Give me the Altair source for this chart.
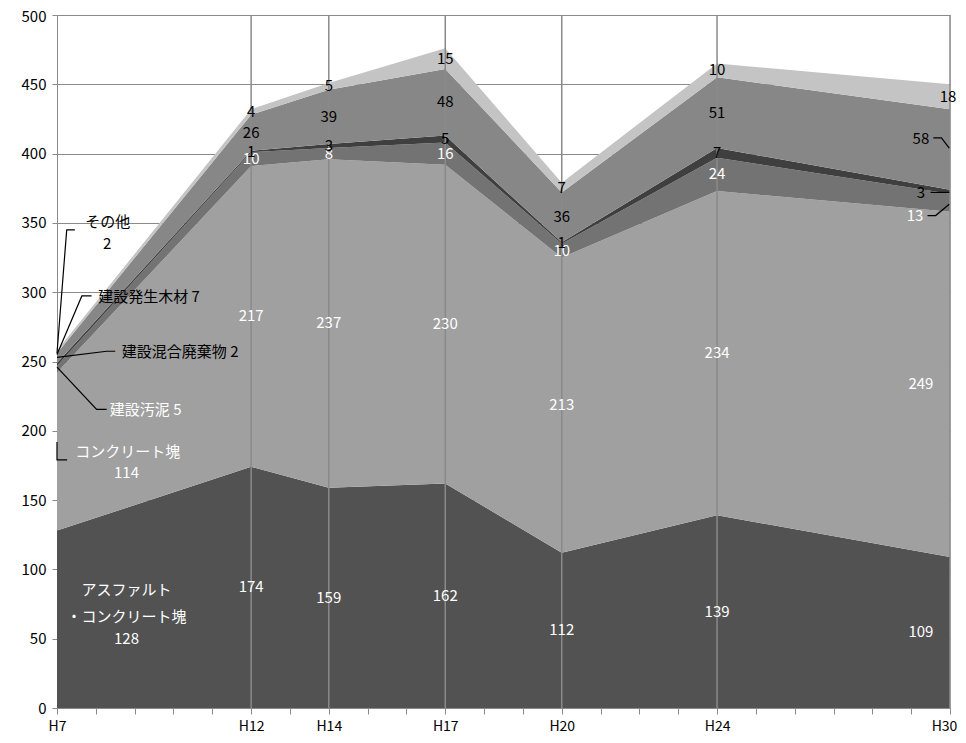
import altair as alt
import pandas as pd

# ---- data ----
years = [7, 12, 14, 17, 20, 24, 30]
labeled_years = [7, 12, 14, 17, 20, 24, 30]
series = ["アスファルト・コンクリート塊", "コンクリート塊", "建設汚泥", "建設混合廃棄物", "建設発生木材", "その他"]
asphalt = [128, 174, 159, 162, 112, 139, 109]
concrete = [114, 217, 237, 230, 213, 234, 249]
sludge = [5, 10, 8, 16, 10, 24, 13]
mixed = [2, 1, 3, 5, 1, 7, 3]
wood = [7, 26, 39, 48, 36, 51, 58]
other = [2, 4, 5, 15, 7, 10, 18]
values = [asphalt, concrete, sludge, mixed, wood, other]

colors = ["#525252", "#a0a0a0", "#737373", "#3f3f3f", "#878787", "#c4c4c4"]
label_colors = ["white", "white", "white", "black", "black", "black"]

FONT = "Noto Sans CJK JP"

# ---- area table ----
rows = []
for si, (name, vals) in enumerate(zip(series, values)):
    for y, v in zip(years, vals):
        rows.append({"year": y, "value": v, "series": name, "idx": si})
df = pd.DataFrame(rows)

# ---- in-band labels (midpoints of each band) ----
label_x = {12: 12, 14: 14, 17: 17, 20: 20, 24: 24, 30: 29.25}
label_y_shift_30 = {2: -9.5, 3: -0.7, 4: 7.5, 5: 0}
label_x_30 = {2: 29.1, 3: 29.25, 4: 29.25, 5: 29.95}
lab = []
for yi, y in enumerate(years):
    if y == 7:
        continue
    cum = 0
    for si, vals in enumerate(values):
        v = vals[yi]
        mid = cum + v / 2
        cum += v
        x = label_x[y]
        if y == 30:
            mid += label_y_shift_30.get(si, 0)
            x = label_x_30.get(si, x)
        lab.append({"x": x, "y": mid, "text": str(v), "c": label_colors[si]})
lab_df = pd.DataFrame(lab)

# ---- callouts at H7 ----
call_text = ["その他", "2", "建設発生木材 7", "建設混合廃棄物 2", "建設汚泥 5",
             "コンクリート塊", "114", "アスファルト", "・コンクリート塊", "128"]
call_x = [8.31, 8.29, 8.06, 8.67, 8.36, 8.82, 8.79, 8.79, 8.79, 8.79]
call_y = [350.9, 334.8, 296.8, 257.0, 215.0, 185.0, 169.6, 85.0, 65.9, 49.8]
call_align = ["center", "center", "left", "left", "left", "center", "center", "center", "center", "center"]
call_color = ["black", "black", "black", "black", "white", "white", "white", "white", "white", "white"]
call_df = pd.DataFrame({"x": call_x, "y": call_y, "text": call_text,
                        "align": call_align, "c": call_color})

# ---- leader lines ----
lead_pts = {
    "other": [(7.46, 344.9), (7.25, 344.9), (7.0, 256.0)],
    "wood": [(7.89, 297.3), (7.64, 297.3), (7.0, 255.0)],
    "mixed": [(8.50, 257.4), (8.28, 257.4), (7.0, 253.0)],
    "sludge": [(8.28, 215.5), (8.02, 215.5), (7.0, 246.0)],
    "concrete": [(7.0, 191.9), (7.0, 179.0), (7.26, 179.0)],
    "r58": [(29.57, 411.3), (29.78, 411.3), (29.98, 404.0)],
    "r3": [(29.50, 372.0), (29.98, 372.0)],
    "r13": [(29.42, 355.3), (29.63, 355.3), (29.98, 363.5)],
}
lead = []
for g, pts in lead_pts.items():
    for i, (x, y) in enumerate(pts):
        lead.append({"g": g, "o": i, "x": x, "y": y})
lead_df = pd.DataFrame(lead)

vlines_df = pd.DataFrame({"year": [12, 14, 17, 20, 24, 30]})

label_expr = "indexof([" + ",".join(str(v) for v in labeled_years) + "], datum.value) >= 0 ? 'H' + datum.value : ''"

xscale = alt.Scale(domain=[7, 30], nice=False, zero=False)
yscale = alt.Scale(domain=[0, 500], nice=False)

area = alt.Chart(df).mark_area(opacity=1).encode(
    x=alt.X("year:Q", scale=xscale,
            axis=alt.Axis(values=list(range(7, 31)), tickCount=40, labelExpr=label_expr, title=None,
                          grid=False, domainColor="#8a8a8a", tickColor="#8a8a8a",
                          tickSize=6, labelPadding=5, labelFontSize=14, labelFont=FONT,
                          labelColor="black", labelFlush=False, labelOverlap=False,
                          labelBound=False,
                          labelOffset={"condition": {"test": "datum.value == 30", "value": -6}, "value": 0})),
    y=alt.Y("value:Q", stack="zero", scale=yscale,
            axis=alt.Axis(values=list(range(0, 501, 50)), tickCount=20, title=None, gridColor="#8a8a8a",
                          domainColor="#8a8a8a", tickColor="#8a8a8a", tickSize=5,
                          labelPadding=6, labelFontSize=15, labelFont=FONT, labelColor="black",
                          labelOverlap=False, labelBound=False, labelFlush=False,
                          labelOffset={"condition": {"test": "datum.value == 500", "value": 1.5}, "value": 0})),
    color=alt.Color("series:N", scale=alt.Scale(domain=series, range=colors), legend=None),
    order=alt.Order("idx:Q", sort="ascending"),
)

vlines = alt.Chart(vlines_df).mark_rule(color="#8a8a8a", strokeWidth=1.5).encode(
    x=alt.X("year:Q", scale=xscale),
    y=alt.value(0),
    y2=alt.value(693),
)

labels = alt.Chart(lab_df).mark_text(fontSize=15, font=FONT, baseline="middle", align="center").encode(
    x=alt.X("x:Q", scale=xscale),
    y=alt.Y("y:Q", scale=yscale),
    text="text:N",
    color=alt.Color("c:N", scale=None),
)

callouts_c = alt.Chart(call_df[call_df["align"] == "center"]).mark_text(
    fontSize=15, font=FONT, baseline="middle", align="center").encode(
    x=alt.X("x:Q", scale=xscale),
    y=alt.Y("y:Q", scale=yscale),
    text="text:N",
    color=alt.Color("c:N", scale=None),
)
callouts_l = alt.Chart(call_df[call_df["align"] == "left"]).mark_text(
    fontSize=15, font=FONT, baseline="middle", align="left").encode(
    x=alt.X("x:Q", scale=xscale),
    y=alt.Y("y:Q", scale=yscale),
    text="text:N",
    color=alt.Color("c:N", scale=None),
)

leaders = alt.Chart(lead_df).mark_line(color="black", strokeWidth=1.2).encode(
    x=alt.X("x:Q", scale=xscale),
    y=alt.Y("y:Q", scale=yscale),
    detail="g:N",
    order="o:Q",
)

chart = alt.layer(area, vlines, leaders, labels, callouts_c, callouts_l).properties(
    width=893, height=693,
    autosize=alt.AutoSizeParams(type="none"),
    padding={"left": 49, "top": 7, "right": 8, "bottom": 26},
).configure_view(stroke=None).configure(background="white")

chart.save("out.html", embed_options={"renderer": "svg", "actions": False})
